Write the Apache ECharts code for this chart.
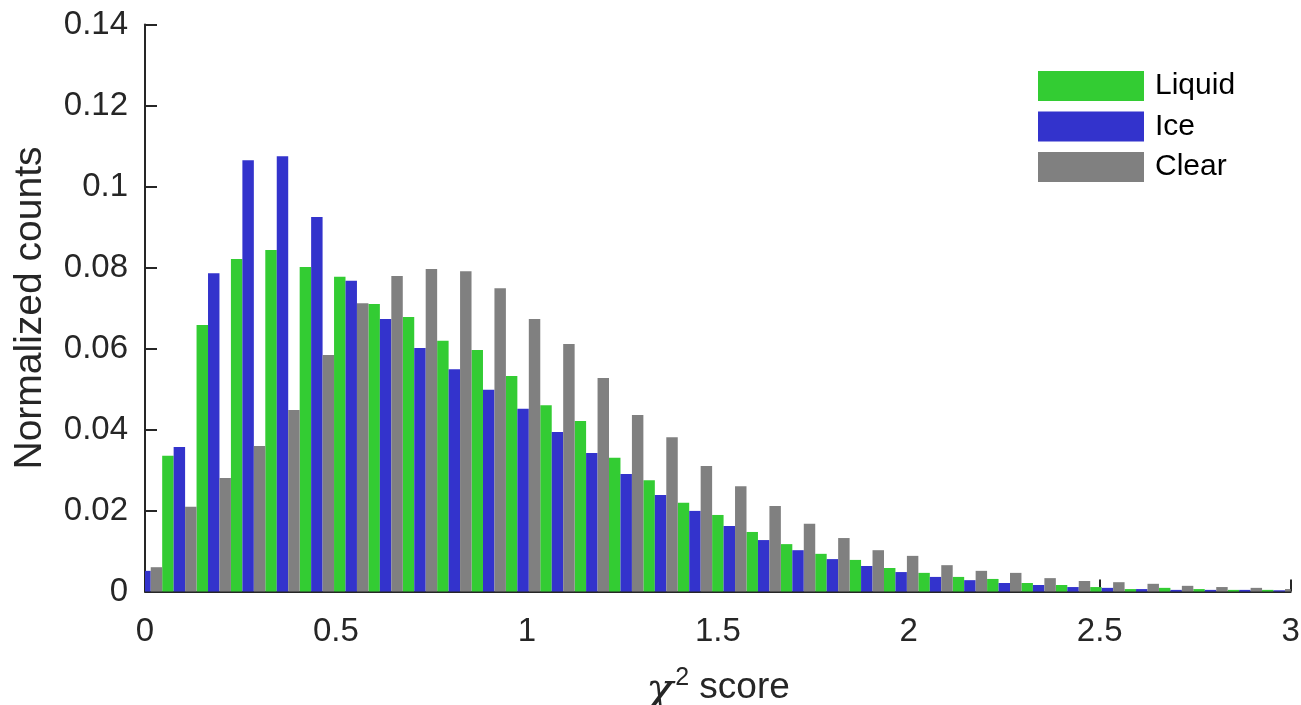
<!DOCTYPE html>
<html>
<head>
<meta charset="utf-8">
<script src="https://cdn.jsdelivr.net/npm/echarts@6/dist/echarts.min.js"></script>
<style>
html,body{margin:0;padding:0;background:#fff;}
#chart{width:1301px;height:705px;}
</style>
</head>
<body>
<div id="chart"></div>
<script>
const binCenters = [0, 0.09, 0.18, 0.27, 0.36, 0.45, 0.54, 0.63, 0.72, 0.81, 0.9, 0.99, 1.08, 1.17, 1.26, 1.35, 1.44, 1.53, 1.62, 1.71, 1.8, 1.89, 1.98, 2.07, 2.16, 2.25, 2.34, 2.43, 2.52, 2.61, 2.7, 2.79, 2.88, 2.97];
const liquid = [0.003, 0.0335, 0.0658, 0.0821, 0.0843, 0.0801, 0.0777, 0.0710, 0.0678, 0.0619, 0.0596, 0.0532, 0.0460, 0.0421, 0.0330, 0.0275, 0.0219, 0.0189, 0.0147, 0.0117, 0.0093, 0.0078, 0.0058, 0.0046, 0.0036, 0.0031, 0.0021, 0.0016, 0.0011, 0.0006, 0.0009, 0.0006, 0.0004, 0.0004];
const ice = [0.0051, 0.0357, 0.0786, 0.1065, 0.1075, 0.0925, 0.0767, 0.0673, 0.0601, 0.0549, 0.0498, 0.0451, 0.0394, 0.0342, 0.0290, 0.0238, 0.0199, 0.0162, 0.0127, 0.0102, 0.0080, 0.0063, 0.0048, 0.0036, 0.0028, 0.0021, 0.0016, 0.0011, 0.0009, 0.0006, 0.0004, 0.0004, 0.0004, 0.0003];
const clear = [0.0060, 0.0209, 0.0280, 0.0359, 0.0448, 0.0584, 0.0712, 0.0779, 0.0796, 0.0791, 0.0749, 0.0673, 0.0611, 0.0527, 0.0436, 0.0381, 0.0310, 0.0260, 0.0211, 0.0167, 0.0132, 0.0102, 0.0088, 0.0065, 0.0051, 0.0046, 0.0033, 0.0026, 0.0023, 0.0019, 0.0014, 0.0011, 0.0009, 0.0006];
const seriesNames = ['Liquid', 'Ice', 'Clear'];
const xTicks = [0, 0.5, 1, 1.5, 2, 2.5, 3];
const yTicks = [0, 0.02, 0.04, 0.06, 0.08, 0.1, 0.12, 0.14];

const colors = ['#33cc33', '#3333cc', '#808080'];
const axisColor = '#262626';
const font = 'Liberation Sans, Arial, Helvetica, sans-serif';

const chart = echarts.init(document.getElementById('chart'), null, {renderer: 'canvas'});
const mk = arr => binCenters.map((x, i) => [x, arr[i]]);
const binStep = binCenters[1] - binCenters[0];
const nSeries = seriesNames.length;

function makeRender(idx) {
  return function (params, api) {
    const x = api.value(0), y = api.value(1);
    const base = api.coord([x, 0]);
    const top = api.coord([x, y]);
    const bw = api.size([binStep, 0])[0] / nSeries;
    const cx = base[0] + (idx - (nSeries - 1) / 2) * bw;
    const rect = {x: cx - bw / 2, y: top[1], width: bw, height: base[1] - top[1]};
    const cs = params.coordSys;
    const clipped = echarts.graphic.clipRectByRect(rect, {x: cs.x, y: cs.y, width: cs.width, height: cs.height});
    if (!clipped) return null;
    return {type: 'rect', shape: clipped, style: {fill: colors[idx]}};
  };
}

chart.setOption({
  animation: false,
  backgroundColor: '#ffffff',
  grid: {left: 145, top: 24.5, right: 10.3, bottom: 113.5, containLabel: false, outerBoundsMode: 'none'},
  legend: {
    orient: 'vertical',
    left: 1038,
    top: 71,
    padding: 0,
    itemWidth: 106,
    itemHeight: 30,
    itemGap: 10.5,
    icon: 'rect',
    data: seriesNames.map((n, i) => ({name: n, itemStyle: {color: colors[i]}})),
    textStyle: {fontFamily: font, fontSize: 30, color: '#000', padding: [0, 0, 0, 6]}
  },
  xAxis: {
    type: 'value',
    min: xTicks[0],
    max: xTicks[xTicks.length - 1],
    interval: 0.5,
    name: '{chi|χ}{sup|2}{n| score}',
    nameLocation: 'middle',
    nameGap: 74,
    nameTextStyle: {
      color: axisColor,
      rich: {
        chi: {fontFamily: 'DejaVu Serif, Liberation Serif, serif', fontStyle: 'italic', fontSize: 45, color: axisColor, verticalAlign: 'bottom', padding: [0, 0, -8, 0]},
        sup: {fontFamily: font, fontSize: 25, color: axisColor, verticalAlign: 'top', padding: [0, 0, 16, 2]},
        n: {fontFamily: font, fontSize: 37, color: axisColor, verticalAlign: 'bottom'}
      }
    },
    axisLine: {show: true, onZero: false, lineStyle: {color: axisColor, width: 2}},
    axisTick: {show: true, inside: true, length: 12, lineStyle: {color: axisColor, width: 2}},
    axisLabel: {show: true, fontFamily: font, fontSize: 33, color: axisColor, margin: 24,
      formatter: v => String(parseFloat(v.toFixed(2)))},
    splitLine: {show: false}
  },
  yAxis: {
    type: 'value',
    min: yTicks[0],
    max: yTicks[yTicks.length - 1],
    interval: 0.02,
    name: 'Normalized counts',
    nameLocation: 'middle',
    nameGap: 95,
    nameTextStyle: {fontFamily: font, fontSize: 39, color: axisColor},
    axisLine: {show: true, onZero: false, lineStyle: {color: axisColor, width: 2}},
    axisTick: {show: true, inside: true, length: 12, lineStyle: {color: axisColor, width: 2}},
    axisLabel: {show: true, fontFamily: font, fontSize: 33, color: axisColor, margin: 17,
      formatter: v => String(parseFloat(v.toFixed(2)))},
    splitLine: {show: false}
  },
  series: [liquid, ice, clear].map((arr, i) => ({
    name: seriesNames[i],
    type: 'custom',
    renderItem: makeRender(i),
    encode: {x: 0, y: 1},
    itemStyle: {color: colors[i]},
    data: mk(arr)
  }))
});
</script>
</body>
</html>
